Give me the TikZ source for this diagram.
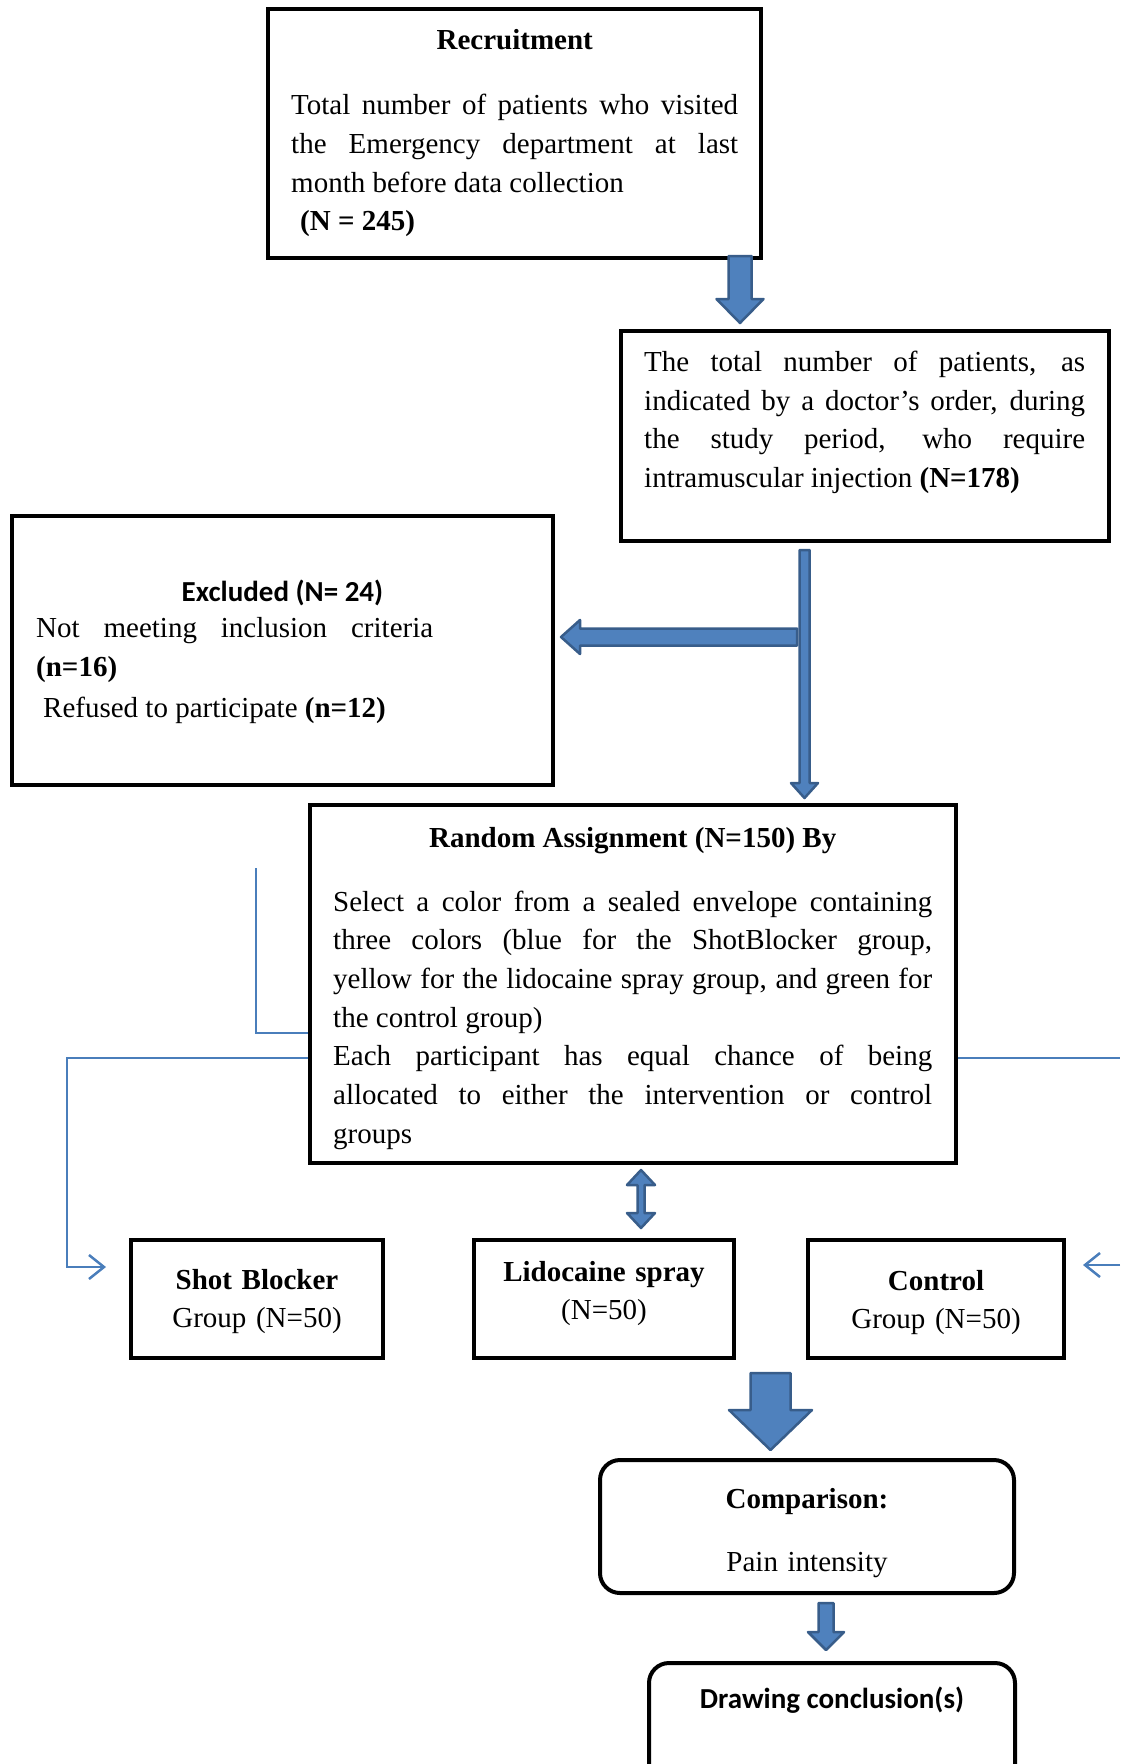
\documentclass[tikz,border=0pt]{standalone}
\usepackage{fontspec}
\setmainfont{Liberation Serif}
\newfontfamily\carlito{Carlito}
\usetikzlibrary{calc,arrows.meta}
\definecolor{afill}{HTML}{4F81BD}
\definecolor{aline}{HTML}{385D8A}
\definecolor{lblue}{HTML}{4A7EBB}
\newcommand\bodyfont{\fontsize{29pt}{38.7pt}\selectfont}
\newcommand\downblk[5]{%
  \path[blk] let \p1=(#1), \p2=(#2) in
   ({\x1-#3pt},\y1) -- ({\x1+#3pt},\y1) -- ({\x1+#3pt},{\y2+#5pt}) -- ({\x1+#4pt},{\y2+#5pt}) -- (\x1,\y2) -- ({\x1-#4pt},{\y2+#5pt}) -- ({\x1-#3pt},{\y2+#5pt}) -- cycle;}
\newcommand\leftblk[5]{%
  \path[blk] let \p1=(#1), \p2=(#2) in
   (\x1,{\y1+#3pt}) -- (\x1,{\y1-#3pt}) -- ({\x2+#5pt},{\y1-#3pt}) -- ({\x2+#5pt},{\y1-#4pt}) -- (\x2,\y1) -- ({\x2+#5pt},{\y1+#4pt}) -- ({\x2+#5pt},{\y1+#3pt}) -- cycle;}
\newcommand\dblblk[5]{%
  \path[blk] let \p1=(#1), \p2=(#2) in
   (\x1,\y1) -- ({\x1+#4pt},{\y1-#5pt}) -- ({\x1+#3pt},{\y1-#5pt}) -- ({\x1+#3pt},{\y2+#5pt}) -- ({\x1+#4pt},{\y2+#5pt}) -- (\x1,\y2) -- ({\x1-#4pt},{\y2+#5pt}) -- ({\x1-#3pt},{\y2+#5pt}) -- ({\x1-#3pt},{\y1-#5pt}) -- ({\x1-#4pt},{\y1-#5pt}) -- cycle;}
\tikzset{
  box/.style={draw=black, line width=4pt, inner sep=0pt, fill=white},
  rbox/.style={box, rounded corners=20pt},
  txt/.style={inner sep=0pt, font=\bodyfont, anchor=base west, align=justify},
  ctxt/.style={inner sep=0pt, font=\bodyfont, anchor=base, align=center},
  blk/.style={fill=afill, draw=aline, line width=2.5pt, line join=round},
  thinline/.style={draw=lblue, line width=2.5pt},
  barb/.style={thinline, -{Straight Barb[length=15pt,width=24pt,line width=2.5pt]}}
}
\begin{document}
\begin{tikzpicture}[x=1pt,y=-1pt]
\useasboundingbox (0,0) rectangle (1120,1764);
% boxes
\node[box, minimum width=493pt, minimum height=249pt] (rec) at (514.5,133.5) {};
\node[box, minimum width=488pt, minimum height=210pt] (tot) at (865,436) {};
\node[box, minimum width=541pt, minimum height=269pt] (exc) at (282.5,650.5) {};
\node[box, minimum width=646pt, minimum height=358pt] (rand) at (633,984) {};
\node[box, minimum width=252pt, minimum height=118pt] (shot) at (257,1299) {};
\node[box, minimum width=260pt, minimum height=118pt] (lido) at (604,1299) {};
\node[box, minimum width=256pt, minimum height=118pt] (ctrl) at (936,1299) {};
\node[rbox, minimum width=414pt, minimum height=133pt] (comp) at (807,1526.5) {};
\node[rbox, minimum width=366pt, minimum height=140pt] (concl) at (832,1733) {};
% texts
\node[txt, text width=447pt] (recT) at (291,49) {%
\centerline{\bfseries Recruitment}\par\vspace{27pt}%
Total number of patients who visited\linebreak the Emergency department at last\linebreak month before data collection\par
\hspace*{9pt}\textbf{(N = 245)}};
\node[txt, text width=441pt] (totT) at (644,371.5) {%
The total number of patients, as\linebreak indicated by a doctor's order, during\linebreak the study period, who require\linebreak intramuscular injection \textbf{(N=178)}};
\node[txt, text width=397pt] (excT) at (36,601) {%
\hbox to\hsize{\hskip145.5pt{\carlito\bfseries Excluded (N= 24)}\hss}\par\vspace{-2pt}%
Not meeting inclusion criteria\linebreak \textbf{(n=16)}\par\vspace{2pt}
\hspace*{7pt}Refused to participate \textbf{(n=12)}};
\node[txt, text width=599pt] (randT) at (333,847) {%
\centerline{\bfseries Random Assignment (N=150) By}\par\vspace{25.3pt}%
Select a color from a sealed envelope containing\linebreak three colors (blue for the ShotBlocker group,\linebreak yellow for the lidocaine spray group, and green for\linebreak the control group)\par
Each participant has equal chance of being\linebreak allocated to either the intervention or control\linebreak groups};
\node[ctxt, text width=240pt] (shotT) at (257,1289) {\textbf{Shot Blocker}\\Group (N=50)};
\node[ctxt, text width=250pt] (lidoT) at (604,1281) {\textbf{Lidocaine spray}\\(N=50)};
\node[ctxt, text width=246pt] (ctrlT) at (936,1290) {\textbf{Control}\\Group (N=50)};
\node[ctxt, text width=400pt] (compT) at (807,1508) {\textbf{Comparison:}\\[24.3pt]Pain intensity};
\node[ctxt, font={\carlito\bfseries\fontsize{29pt}{38.7pt}\selectfont}] (conclT) at (832,1708) {Drawing conclusion(s)};
% block arrow end points
\coordinate (a1s) at (740,256);   \coordinate (a1e) at (740,323);
\coordinate (a2s) at (804.5,550); \coordinate (a2e) at (804.5,798);
\coordinate (a3s) at (797,637);   \coordinate (a3e) at (561,637);
\coordinate (a4s) at (641,1170);  \coordinate (a4e) at (641,1228);
\coordinate (a5s) at (770.5,1373);\coordinate (a5e) at (770.5,1450);
\coordinate (a6s) at (826,1603);  \coordinate (a6e) at (826,1650);
\downblk{a1s}{a1e}{11.5}{23.5}{24}
\leftblk{a3s}{a3e}{8.5}{17}{19}
\downblk{a2s}{a2e}{5}{13.5}{15}
\dblblk{a4s}{a4e}{3.5}{14}{15}
\downblk{a5s}{a5e}{20}{41.5}{40}
\downblk{a6s}{a6e}{7.5}{18}{18}
% thin blue connectors
\coordinate (l1) at (256,868);
\coordinate (sbtip) at (106,1267);
\coordinate (redge) at (1120,1058);
\coordinate (rin) at (1120,1265);
\coordinate (ctip) at (1083,1265);
\draw[thinline] (l1) |- (rand.west |- 0,1033);
\draw[barb] (rand.west |- 0,1058) -| (67,1267) -- (sbtip);
\draw[thinline] (rand.east |- 0,1058) -- (redge);
\draw[barb] (rin) -- (ctip);
\end{tikzpicture}
\end{document}
